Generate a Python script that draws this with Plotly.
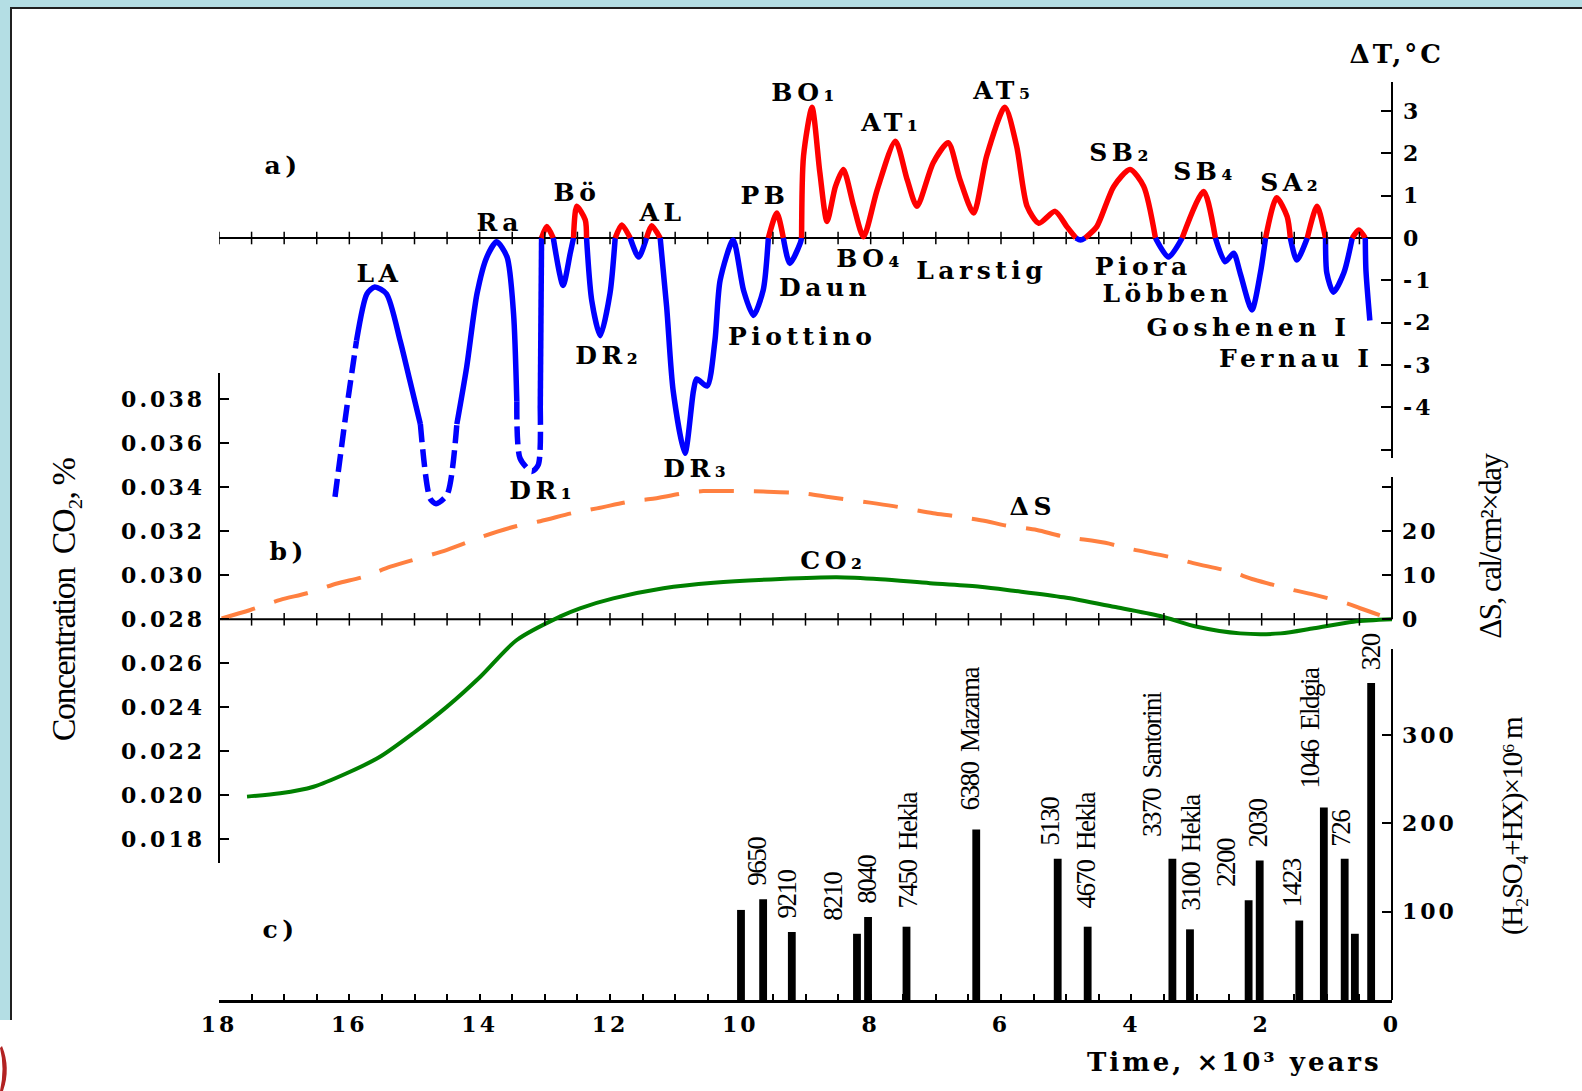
import json
import plotly.graph_objects as go

# ---------------- data ----------------
# Temperature anomaly reconstruction: time (10^3 years BP) and anomaly (deg C)
dt_time = [16.22, 16.04, 15.89, 15.73, 15.61, 15.43, 15.22, 15.07, 14.91, 14.76,
           14.67, 14.50, 14.35, 14.20, 14.04, 13.89, 13.74, 13.58, 13.48, 13.43,
           13.38, 13.20, 13.10, 13.07, 13.05, 12.97, 12.87, 12.72, 12.61, 12.56,
           12.51, 12.38, 12.36, 12.28, 12.15, 12.00, 11.92, 11.82, 11.69, 11.56,
           11.44, 11.36, 11.23, 11.13, 11.03, 10.85, 10.72, 10.67, 10.51, 10.39,
           10.31, 10.11, 9.95, 9.80, 9.65, 9.57, 9.44, 9.34, 9.24, 9.08,
           9.06, 9.03, 8.90, 8.78, 8.67, 8.54, 8.42, 8.26, 8.11, 7.90,
           7.62, 7.44, 7.29, 7.04, 6.81, 6.63, 6.42, 6.22, 5.94, 5.76,
           5.60, 5.42, 5.17, 4.99, 4.85, 4.78, 4.71, 4.53, 4.27, 4.02,
           3.81, 3.63, 3.43, 3.22, 2.89, 2.71, 2.56, 2.43, 2.33, 2.15,
           2.02, 1.94, 1.77, 1.61, 1.56, 1.46, 1.30, 1.15, 1.02, 1.00,
           0.90, 0.74, 0.61, 0.51, 0.41, 0.40, 0.34]
dt_value = [-6.12, -4.02, -2.43, -1.32, -1.16, -1.32, -2.43, -3.38, -4.40, -6.16,
            -6.28, -6.07, -4.40, -3.06, -1.31, -0.45, -0.09, -0.45, -1.79, -3.86,
            -5.21, -5.52, -5.36, -4.02, 0.0, 0.27, 0.0, -1.12, -0.36, 0.0,
            0.75, 0.43, 0.0, -1.48, -2.31, -1.31, 0.0, 0.31, 0.0, -0.45,
            0.0, 0.29, 0.0, -1.64, -3.62, -5.09, -3.62, -3.33, -3.50, -2.43,
            -1.00, -0.05, -1.24, -1.83, -1.24, 0.0, 0.59, 0.0, -0.60, -0.12,
            0.0, 1.94, 3.09, 1.55, 0.39, 1.22, 1.62, 0.75, 0.03, 1.14,
            2.29, 1.38, 0.75, 1.78, 2.25, 1.38, 0.59, 1.94, 3.09, 2.17,
            0.75, 0.35, 0.63, 0.27, 0.0, -0.05, 0.0, 0.27, 1.22, 1.62,
            1.22, 0.0, -0.45, 0.0, 1.10, 0.0, -0.56, -0.36, -0.83, -1.70,
            -0.83, 0.0, 0.95, 0.51, 0.0, -0.52, 0.0, 0.75, 0.0, -0.83,
            -1.28, -0.83, 0.0, 0.19, 0.0, -0.76, -1.95]
# stretches of the reconstruction drawn dashed (uncertain), as (from, to) in 10^3 years
dt_dashed_spans = [(16.30, 15.89), (14.91, 14.35), (13.43, 13.07)]

dt_labels = ["LA", "Ra", "Bö", "AL", "DR₁", "DR₂", "DR₃", "PB", "BO₁", "AT₁", "AT₅",
             "SB₂", "SB₄", "SA₂", "BO₄", "Larstig", "Daun", "Piottino", "Piora",
             "Löbben", "Goshenen I", "Fernau I"]

# CO2 concentration (%)
co2_time = [17.57, 17.06, 16.55, 16.04, 15.53, 15.02, 14.50, 13.99, 13.43, 12.77,
            12.46, 11.95, 11.18, 10.41, 9.39, 8.52, 7.85, 7.09, 6.32, 5.81,
            5.04, 4.27, 3.56, 2.99, 2.33, 1.71, 1.20, 0.59, 0.0]
co2_value = [0.01994, 0.02009, 0.02039, 0.02100, 0.02175, 0.02282, 0.02403, 0.02539, 0.02706, 0.02812,
             0.02850, 0.02895, 0.02941, 0.02966, 0.02983, 0.02991, 0.02982, 0.02964, 0.02948, 0.02930,
             0.02900, 0.02857, 0.02815, 0.02766, 0.02736, 0.02736, 0.02759, 0.02789, 0.02800]

# Insolation change dS (cal/cm^2 x day)
ds_time = [17.96, 17.52, 17.06, 16.65, 16.19, 15.78, 15.37, 14.50, 13.94, 13.43,
           13.07, 12.56, 12.20, 11.64, 11.38, 10.87, 10.57, 10.00, 9.65, 9.03,
           8.62, 8.01, 7.65, 7.04, 6.73, 6.22, 5.96, 5.45, 5.07, 4.40,
           4.07, 3.38, 3.05, 2.48, 2.12, 1.51, 1.23, 0.67, 0.49, 0.0]
ds_value = [0.2, 2.1, 4.4, 5.9, 8.1, 9.6, 11.9, 15.7, 18.8, 21.1,
            22.2, 24.1, 25.1, 26.8, 27.2, 28.5, 29.0, 29.0, 28.9, 28.5,
            27.6, 26.4, 25.6, 24.0, 23.4, 22.2, 21.3, 20.2, 18.8, 17.3,
            16.1, 14.0, 12.7, 10.8, 9.0, 6.6, 5.7, 3.5, 2.5, 0.0]

# Volcanic acid deposits (H2SO4 + HX) x 10^6 m
bar_time = [9.99, 9.65, 9.21, 8.21, 8.04, 7.45, 6.38, 5.13, 4.67, 3.37,
            3.10, 2.20, 2.03, 1.423, 1.046, 0.726, 0.57, 0.32]
bar_value = [102, 114, 77, 75, 94, 83, 193, 160, 83, 160,
             80, 113, 158, 90, 218, 160, 75, 359]
bar_label = ["", "9650", "9210", "8210", "8040", "7450  Hekla", "6380  Mazama", "5130",
             "4670  Hekla", "3370  Santorini", "3100  Hekla", "2200", "2030", "1423",
             "1046  Eldgia", "726", "", "320"]

x_tick_vals = [0, 2, 4, 6, 8, 10, 12, 14, 16, 18]
x_tick_text = [str(v) for v in x_tick_vals]
dt_tick_vals = [-4, -3, -2, -1, 0, 1, 2, 3]
dt_tick_text = [str(v) for v in dt_tick_vals]
co2_tick_vals = [0.018, 0.020, 0.022, 0.024, 0.026, 0.028, 0.030, 0.032, 0.034, 0.036, 0.038]
ds_tick_vals = [0, 10, 20]
acid_tick_vals = [100, 200, 300]

# ---------------- geometry ----------------
W, H = 1582, 1091
L, R, T, B = 219, 1392, 40, 1000


def xp(p):
    return (p - L) / (R - L)


def yp(p):
    return (B - p) / (B - T)


def axis_range(v0, p0, ppu):
    """Value range of a y axis whose value v0 sits on pixel row p0, ppu pixels per unit."""
    return [v0 - (B - p0) / ppu, v0 + (p0 - T) / ppu]


# font families; each gets its own tracking, applied once the plot is drawn
LABEL_FAMILY = "DejaVu Serif"
TICK_FAMILY = "DejaVu Serif, serif"
NARROW_FAMILY = "Liberation Serif"
TRACKING = {LABEL_FAMILY: 4.5, TICK_FAMILY: 3, NARROW_FAMILY: -1.5}

RED, BLUE, GREEN, ORANGE = "#FF0000", "#0000FF", "#008000", "#FF8040"

fig = go.Figure()

# ---- a) temperature curve, red above zero, blue below ----
def dashed_pair(t0, t1):
    return any(lo - 1e-9 <= t0 <= hi + 1e-9 and lo - 1e-9 <= t1 <= hi + 1e-9
               for hi, lo in dt_dashed_spans)


runs = []
for i in range(len(dt_time) - 1):
    a, b = dt_value[i], dt_value[i + 1]
    warm = min(a, b) >= 0 and max(a, b) > 0
    style = (warm, dashed_pair(dt_time[i], dt_time[i + 1]))
    if runs and runs[-1][0] == style:
        runs[-1][1].append(i + 1)
    else:
        runs.append([style, [i, i + 1]])

for (warm, dashed), idx in runs:
    fig.add_trace(go.Scatter(
        x=[dt_time[j] for j in idx], y=[dt_value[j] for j in idx],
        mode="lines", yaxis="y", hoverinfo="skip",
        line=dict(color=RED if warm else BLUE, width=5.5,
                  dash="18px,7px" if dashed else "solid",
                  shape="spline", smoothing=0.7)))

# ---- b) insolation and CO2 ----
fig.add_trace(go.Scatter(x=ds_time, y=ds_value, mode="lines", yaxis="y3", hoverinfo="skip",
                         line=dict(color=ORANGE, width=4, dash="35px,20px",
                                   shape="spline", smoothing=0.8)))
fig.add_trace(go.Scatter(x=co2_time, y=co2_value, mode="lines", yaxis="y2", hoverinfo="skip",
                         line=dict(color=GREEN, width=4, shape="spline", smoothing=0.8)))

# ---- c) volcanic deposits ----
fig.add_trace(go.Bar(x=bar_time, y=bar_value, width=0.12, yaxis="y4",
                     marker=dict(color="black", line=dict(width=0)), hoverinfo="skip"))

# tick marks crossing the two inner zero lines
inner_ticks = [i * 0.5 for i in range(1, 37)]
for ax, vals in (("y", inner_ticks), ("y3", inner_ticks[:-1])):
    fig.add_trace(go.Scatter(x=vals, y=[0] * len(vals), mode="markers", yaxis=ax,
                             hoverinfo="skip",
                             marker=dict(symbol="line-ns", size=9,
                                         line=dict(width=1.5, color="black"))))

tick_font = dict(family=TICK_FAMILY, size=22, color="black", weight="bold")
common_y = dict(showline=False, showgrid=False, zeroline=False, ticks="inside",
                tickcolor="black", tickwidth=2, tickfont=tick_font, fixedrange=True)

fig.update_layout(
    width=W, height=H,
    margin=dict(l=L, r=W - R, t=T, b=H - B, autoexpand=False),
    paper_bgcolor="white", plot_bgcolor="white",
    showlegend=False, hovermode=False,
    xaxis=dict(range=[18, 0], showline=True, linecolor="black", linewidth=2.5,
               ticks="inside", ticklen=6, tickwidth=1.5, tickcolor="black",
               tickvals=x_tick_vals, ticktext=x_tick_text,
               minor=dict(tick0=0, dtick=0.5, ticks="inside", ticklen=6, tickwidth=1.5,
                          tickcolor="black", showgrid=False),
               tickfont=tick_font, ticklabelstandoff=3,
               showgrid=False, zeroline=False, fixedrange=True),
    yaxis=dict(range=axis_range(0, 238, 42.3), side="right", ticklen=11,
               tickvals=dt_tick_vals, ticktext=dt_tick_text,
               minor=dict(tickvals=[-5], ticks="inside", ticklen=11, tickwidth=2,
                          tickcolor="black", showgrid=False),
               ticklabelstandoff=10, **common_y),
    yaxis2=dict(range=axis_range(0.028, 619.3, 22000), overlaying="y", side="left", ticklen=10,
                tickvals=co2_tick_vals, ticktext=[f"{v:.3f}" for v in co2_tick_vals],
                ticklabelstandoff=13, **common_y),
    yaxis3=dict(range=axis_range(0, 619.3, 4.42), overlaying="y", side="right", ticklen=10,
                tickvals=ds_tick_vals, ticktext=[str(v) for v in ds_tick_vals],
                minor=dict(tickvals=[30], ticks="inside", ticklen=10, tickwidth=2,
                           tickcolor="black", showgrid=False),
                ticklabelstandoff=9, **common_y),
    yaxis4=dict(range=axis_range(0, 1000, 0.883), overlaying="y", side="right", ticklen=10,
                tickvals=acid_tick_vals, ticktext=[str(v) for v in acid_tick_vals],
                ticklabelstandoff=9, **common_y),
)

# ---- axis lines, inner zero lines, page frame ----
shapes = []
line_k = dict(color="black", width=2)
for x0, y_top, y_bot in ((0, 373, 863), (1, 82, 458), (1, 477, 619.3), (1, 649, 1000)):
    shapes.append(dict(type="line", xref="paper", yref="paper", x0=x0, x1=x0,
                       y0=yp(y_bot), y1=yp(y_top), line=line_k, layer="above"))
for ax in ("y", "y3"):
    shapes.append(dict(type="line", xref="paper", yref=ax, x0=0, x1=1, y0=0, y1=0,
                       line=dict(color="black", width=2), layer="below"))
frame_fill = "#B4DEE4"
shapes += [
    dict(type="rect", xref="paper", yref="paper", x0=xp(0), x1=xp(W), y0=yp(7), y1=yp(0),
         fillcolor=frame_fill, line=dict(width=0), layer="below"),
    dict(type="rect", xref="paper", yref="paper", x0=xp(0), x1=xp(10), y0=yp(1020), y1=yp(0),
         fillcolor=frame_fill, line=dict(width=0), layer="below"),
    dict(type="line", xref="paper", yref="paper", x0=xp(10), x1=xp(W), y0=yp(8), y1=yp(8),
         line=dict(color="#202020", width=2)),
    dict(type="line", xref="paper", yref="paper", x0=xp(11), x1=xp(11), y0=yp(1020), y1=yp(8),
         line=dict(color="#202020", width=2)),
    dict(type="path", xref="paper", yref="paper",
         path=(f"M {xp(2)},{yp(1046)} Q {xp(11)},{yp(1068)} {xp(3)},{yp(1091)} "
               f"L {xp(0)},{yp(1091)} Q {xp(5)},{yp(1068)} {xp(0)},{yp(1048)} Z"),
         fillcolor="#B22222", line=dict(width=0)),
]
fig.update_layout(shapes=shapes)

# ---- text ----
ann = []


def place(text, px, py, font, **kw):
    d = dict(text=text, x=xp(px), y=yp(py), xref="paper", yref="paper",
             xanchor="center", yanchor="middle", showarrow=False, font=font)
    d.update(kw)
    ann.append(d)


label_font = dict(family=LABEL_FAMILY, size=25, color="black", weight="bold")
label_pos = [(380, 273), (500, 222), (577, 192), (662, 212), (542, 490), (608, 355), (696, 468),
             (765, 195), (805, 93), (891, 123), (1003, 90), (1121, 153),
             (1205, 172), (1291, 183), (870, 258), (982, 270), (825, 287),
             (802, 337), (1143, 266), (1167, 293), (1248, 327), (1296, 358)]
for txt, (px, py) in zip(dt_labels, label_pos):
    place(txt, px, py, label_font)

for txt, (px, py) in (("CO₂", (833, 560)), ("ΔS", (1032, 506)),
                      ("a)", (283, 166)), ("b)", (288, 551)), ("c)", (280, 929))):
    place(txt, px, py, label_font)

title_font = dict(family=TICK_FAMILY, size=26, color="black", weight="bold")
place("ΔT,°C", 1396, 54, title_font)
place("Time, ×10³ years", 1234, 1062, title_font)

narrow = lambda s: dict(family=NARROW_FAMILY, size=s, color="black")
place("Concentration  CO₂, %", 64, 600, narrow(34), textangle=-90)
place("ΔS, cal/cm²×day", 1490, 547, narrow(31), textangle=-90)
place("(H₂SO₄+HX)×10⁶ m", 1512, 826, narrow(29), textangle=-90)

# eruption labels sit above their bars
bar_label_px = [None, 757.5, 787.5, 833, 866.7, 908, 970, 1050, 1086, 1152,
                1191.7, 1226.7, 1258, 1291.7, 1310, 1341.7, None, 1370]
for txt, val, px in zip(bar_label, bar_value, bar_label_px):
    if not txt:
        continue
    ann.append(dict(text=txt, x=xp(px), y=val, xref="paper", yref="y4",
                    xanchor="center", yanchor="bottom", yshift=8, textangle=-90,
                    showarrow=False, font=narrow(27)))

fig.update_layout(annotations=ann)

# letter tracking per font family, applied after plotly has laid the text out
tracking_js = """
var gd = document.getElementById('{plot_id}');
var track = %s;
var norm = function(s) { return (s || '').replace(/["' ]/g, '').toLowerCase(); };
var table = {};
Object.keys(track).forEach(function(k) { table[norm(k)] = track[k]; });
gd.querySelectorAll('text').forEach(function(t) {
    var v = table[norm(t.style.fontFamily)];
    if (v !== undefined) { t.style.letterSpacing = v + 'px'; }
});
""" % json.dumps(TRACKING)

fig.write_html("out.html", post_script=tracking_js)
